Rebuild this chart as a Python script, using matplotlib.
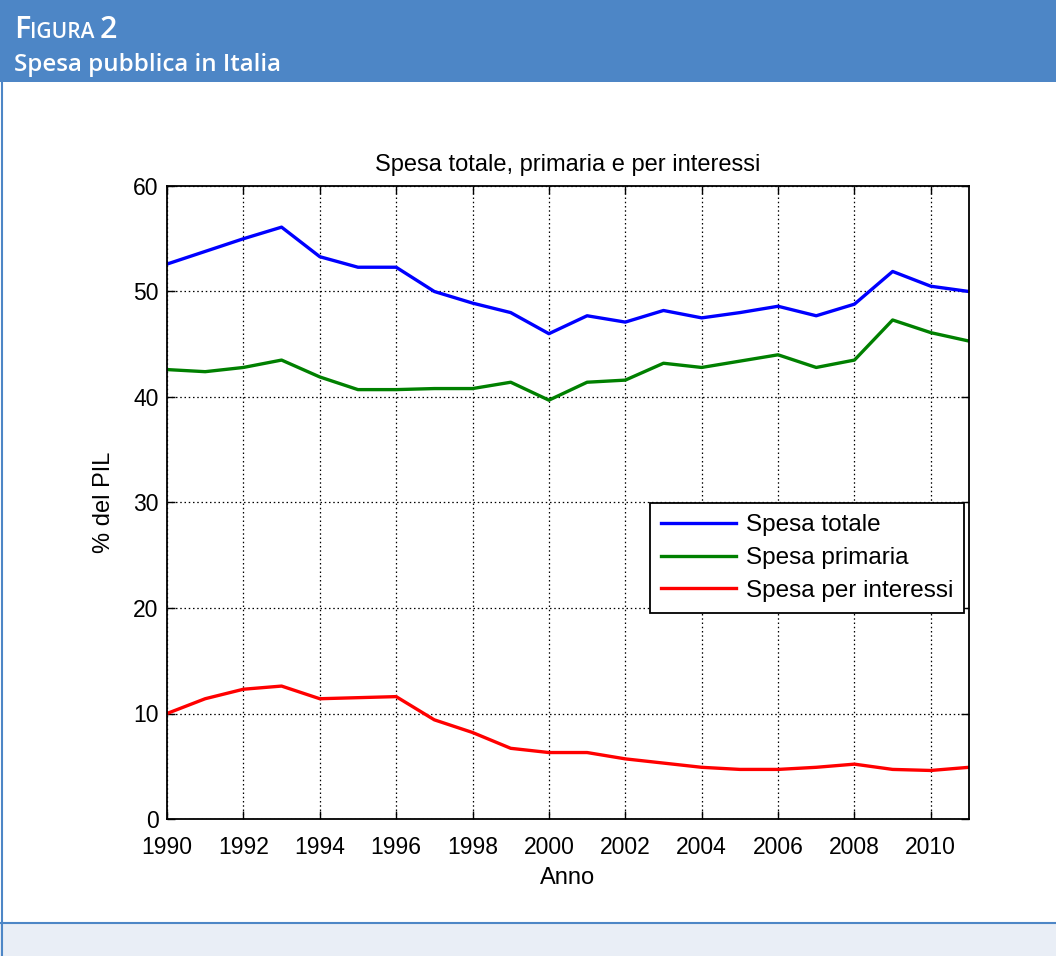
import matplotlib
matplotlib.use('Agg')
import matplotlib.pyplot as plt
from matplotlib.patches import Rectangle
from matplotlib.lines import Line2D

anni = list(range(1990, 2012))
spesa_totale = [52.6, 53.8, 55.0, 56.1, 53.3, 52.3, 52.3, 50.0, 48.9, 48.0, 46.0,
                47.7, 47.1, 48.2, 47.5, 48.0, 48.6, 47.7, 48.8, 51.9, 50.5, 50.0]
spesa_primaria = [42.6, 42.4, 42.8, 43.5, 41.9, 40.7, 40.7, 40.8, 40.8, 41.4, 39.7,
                  41.4, 41.6, 43.2, 42.8, 43.4, 44.0, 42.8, 43.5, 47.3, 46.1, 45.3]
spesa_interessi = [10.0, 11.4, 12.3, 12.6, 11.4, 11.5, 11.6, 9.4, 8.2, 6.7, 6.3,
                   6.3, 5.7, 5.3, 4.9, 4.7, 4.7, 4.9, 5.2, 4.7, 4.6, 4.9]
x_ticks = list(range(1990, 2011, 2))
y_ticks = [0, 10, 20, 30, 40, 50, 60]

W, H = 1056, 956
fig = plt.figure(figsize=(W / 100, H / 100), dpi=100)
plt.rcParams['font.family'] = ['Liberation Sans', 'DejaVu Sans']

# cornice e fasce della scheda
bg = fig.add_axes([0, 0, 1, 1])
bg.set_xlim(0, W)
bg.set_ylim(H, 0)
bg.axis('off')
bg.add_patch(Rectangle((0, 0), W, 82, color='#4d86c6', lw=0))
bg.add_patch(Rectangle((0, 922), W, 34, color='#e9eef6', lw=0))
bg.add_line(Line2D([0, W], [922.5, 922.5], color='#4d86c6', lw=1.5))
bg.add_line(Line2D([1.5, 1.5], [0, H], color='#4d86c6', lw=1.5))
head = dict(color='white', family=['Open Sans', 'DejaVu Sans'], va='baseline', weight='semibold')
# maiuscoletto: F e 2 grandi, IGURA piu' piccolo
bg.text(14, 38, 'F', fontsize=22, **head)
bg.text(30, 38, 'IGURA', fontsize=15, **head)
bg.text(100, 38, '2', fontsize=22, **head)
bg.text(14, 71, 'Spesa pubblica in Italia', fontsize=17.4, **head)

ax = fig.add_axes([167 / W, (H - 819) / H, (969 - 167) / W, (819 - 186) / H])
ax.plot(anni, spesa_totale, color='#0000ff', lw=2.4, label='Spesa totale')
ax.plot(anni, spesa_primaria, color='#008000', lw=2.4, label='Spesa primaria')
ax.plot(anni, spesa_interessi, color='#ff0000', lw=2.4, label='Spesa per interessi')

ax.set_xlim(1990, 2011)
ax.set_ylim(0, 60)
ax.set_xticks(x_ticks)
ax.set_yticks(y_ticks)
ax.grid(True, color='black', linestyle=(0, (1.2, 2.2)), linewidth=0.9)
ax.tick_params(direction='in', length=6, width=1, labelsize=16.5, top=True, right=True)
ax.tick_params(axis='x', pad=12)
ax.tick_params(axis='y', pad=6)
for s in ax.spines.values():
    s.set_linewidth(1.3)

ax.set_title('Spesa totale, primaria e per interessi', fontsize=17, pad=11)
ax.set_xlabel('Anno', fontsize=17, labelpad=6)
ax.set_ylabel('% del PIL', fontsize=17, labelpad=13)

leg = ax.legend(loc='upper left', bbox_to_anchor=(0.602, 0.499), borderaxespad=0,
                fontsize=17.5, handlelength=3.1, handletextpad=0.4, fancybox=False,
                framealpha=1, edgecolor='black', borderpad=0.45, labelspacing=0.45)
leg.get_frame().set_linewidth(1.3)

fig.savefig('out.png', dpi=100)
